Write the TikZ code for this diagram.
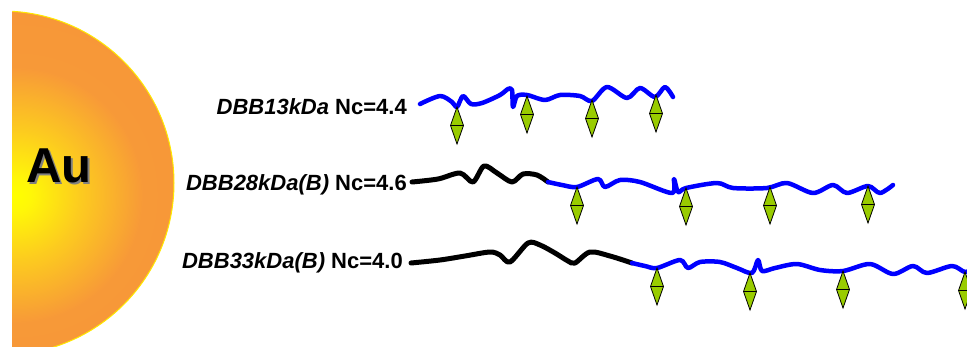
\documentclass[tikz,border=0pt]{standalone}
\usepackage{fontspec}
\setmainfont{Liberation Sans}
\usetikzlibrary{shapes.geometric}

\definecolor{chainblue}{RGB}{0,0,255}
\definecolor{beadgreen}{RGB}{153,204,0}
\definecolor{rimyellow}{RGB}{255,232,0}
\definecolor{shadowgray}{RGB}{128,128,128}

% gold particle: bright yellow core fading to orange
\pgfdeclareradialshading{goldball}{\pgfpoint{0bp}{0bp}}{%
  rgb(0bp)=(1,1,0);
  rgb(2bp)=(1,0.97,0.03);
  rgb(8bp)=(0.99,0.80,0.12);
  rgb(16bp)=(0.97,0.60,0.22);
  rgb(25bp)=(0.97,0.59,0.22);
  rgb(50bp)=(0.97,0.59,0.22)}

% text with a grey drop shadow set behind it
\newcommand{\dropshadowtext}[1]{%
  \makebox[0pt][l]{\kern2pt\raisebox{-2pt}{\textcolor{shadowgray}{#1}}}#1}

\tikzset{
  bead/.style={diamond, draw=black, line width=0.8pt, fill=beadgreen,
    minimum width=13pt, minimum height=37pt, inner sep=0pt, outer sep=0pt,
    anchor=north,
    path picture={\draw[line width=0.8pt]
      (path picture bounding box.west) -- (path picture bounding box.east);}},
  chainlabel/.style={anchor=east, inner sep=0pt,
    font=\fontsize{22}{26}\selectfont\bfseries},
  spacer/.style={draw=chainblue, line width=4.5pt, line cap=round, line join=round},
  tether/.style={draw=black, line width=5pt, line cap=round, line join=round},
  aulabel/.style={font=\fontsize{49}{55}\selectfont\bfseries, inner sep=0pt}
}

\begin{document}
\begin{tikzpicture}[x=1pt,y=-1pt]
\useasboundingbox (0,0) rectangle (967,346);

% gold nanoparticle (half disc)
\begin{scope}
  \clip (12,0) rectangle (400,346);
  \clip (2,183) circle (172);
  \shade[shading=goldball] (15,195) circle (200);
\end{scope}
\begin{scope}
  \clip (12.4,0) rectangle (400,346);
  \draw[rimyellow, line width=1pt] (2,183) circle (172);
\end{scope}
\node[aulabel, text=black] (au) at (59,167) {\dropshadowtext{Au}};

% chain labels
\node[chainlabel] (lab1) at (407,107) {\textit{DBB13kDa} Nc=4.4};
\node[chainlabel] (lab2) at (407,185) {\textit{DBB28kDa(B)} Nc=4.6};
\node[chainlabel] (lab3) at (403,263) {\textit{DBB33kDa(B)} Nc=4.0};

% chain 1
\draw[spacer] plot[smooth, tension=0.5] coordinates {
  (420,104) (440,96) (452,102) (457,107) (463,96) (471,104) (482,103)
  (500,95) (508,89) (512,90) (513,107) (517,96) (527,95) (545,100)
  (560,95) (580,96) (592,101) (607,87) (627,98) (640,88) (655,97)
  (665,87) (673,97)};

% chain 2
\draw[tether] plot[smooth, tension=0.5] coordinates {
  (412,182) (438,179) (460,173) (473,182) (484,166) (497,173)
  (512,182) (523,174) (537,175) (548,182)};
\draw[spacer] plot[smooth, tension=0.5] coordinates {
  (548,182) (562,185) (577,187) (598,179) (605,187) (620,180) (640,182)
  (672,193) (674,179) (678,192) (686,188) (717,183) (733,188) (767,188)
  (787,183) (813,193) (833,185) (847,193) (868,186) (880,193) (893,185)};

% chain 3
\draw[tether] plot[smooth, tension=0.5] coordinates {
  (411,263) (440,260) (465,256) (490,252) (500,255) (510,262) (528,243)
  (540,245) (555,253) (568,261) (575,263) (590,252) (610,256) (632,263)};
\draw[spacer] plot[smooth, tension=0.5] coordinates {
  (632,263) (645,266) (657,268) (680,260) (688,268) (700,262) (720,262)
  (737,268) (752,273) (758,260) (762,271) (775,268) (797,264) (820,270)
  (843,271) (870,264) (893,274) (913,266) (927,273) (952,266) (965,272)
  (975,268)};

% side groups
\node[bead] (b11) at (457,107) {};
\node[bead] (b12) at (527,96) {};
\node[bead] (b13) at (592,100) {};
\node[bead] (b14) at (656,95) {};

\node[bead] (b21) at (577,187) {};
\node[bead] (b22) at (686,188) {};
\node[bead] (b23) at (770,187) {};
\node[bead] (b24) at (868,186) {};

\node[bead] (b31) at (657,268) {};
\node[bead] (b32) at (750,273) {};
\node[bead] (b33) at (843,271) {};
\node[bead] (b34) at (965,272) {};
\end{tikzpicture}
\end{document}
